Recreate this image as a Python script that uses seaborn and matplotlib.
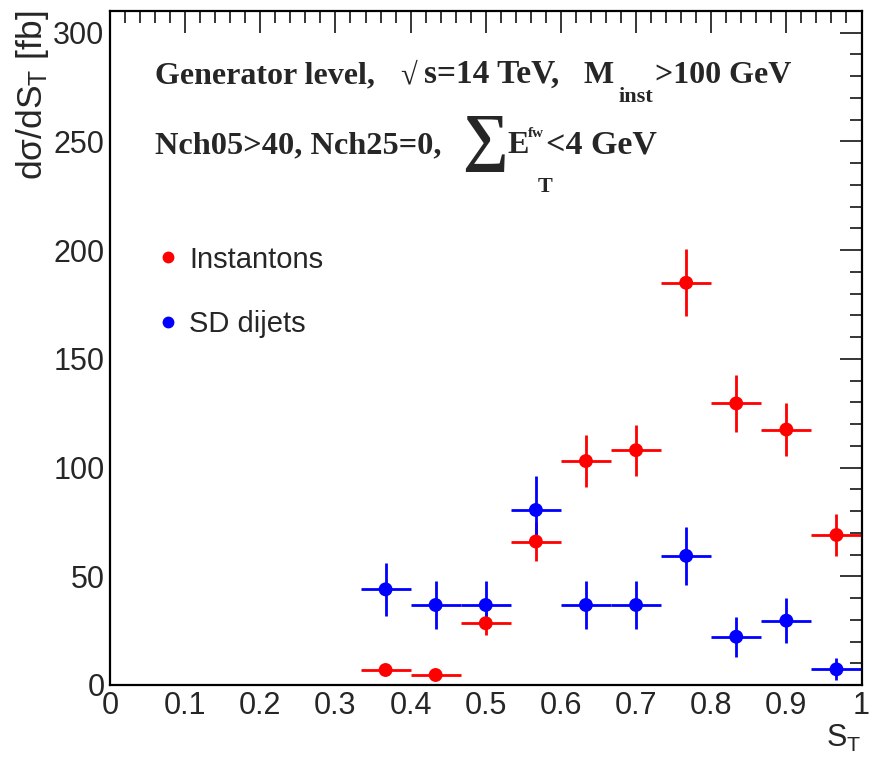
import numpy as np
import pandas as pd
import matplotlib
matplotlib.use("Agg")
import matplotlib.pyplot as plt
from matplotlib.lines import Line2D
from matplotlib.ticker import MultipleLocator, FixedLocator, FixedFormatter
import seaborn as sns

# S_T bin centres (15 equal bins on [0,1], only the filled ones)
st_centers = [0.3667, 0.4333, 0.5, 0.5667, 0.6333, 0.7, 0.7667, 0.8333, 0.9, 0.9667]
bin_half_width = 1.0 / 30.0

# dsigma/dS_T [fb] with statistical errors
inst_vals = [6.9, 4.6, 28.4, 66.0, 103.0, 108.0, 185.0, 129.5, 117.5, 69.0]
inst_errs = [1.5, 1.2, 5.3, 8.8, 11.8, 11.8, 15.5, 13.0, 12.4, 9.6]
sd_vals = [44.0, 36.8, 36.8, 80.5, 36.8, 36.8, 59.4, 22.2, 29.6, 7.2]
sd_errs = [12.3, 11.0, 11.0, 15.5, 10.9, 10.9, 13.4, 9.2, 10.3, 5.0]

samples = ["Instantons", "SD dijets"]
colors = {"Instantons": "#ff0000", "SD dijets": "#0000ff"}

x_ticks = [0, 0.1, 0.2, 0.3, 0.4, 0.5, 0.6, 0.7, 0.8, 0.9, 1.0]
x_tick_labels = ["0", "0.1", "0.2", "0.3", "0.4", "0.5", "0.6", "0.7", "0.8", "0.9", "1"]
y_ticks = [0, 50, 100, 150, 200, 250, 300]

df = pd.DataFrame({
    "st": st_centers * 2,
    "xsec": inst_vals + sd_vals,
    "err": inst_errs + sd_errs,
    "sample": ["Instantons"] * len(inst_vals) + ["SD dijets"] * len(sd_vals),
})

sns.set_style("white")
plt.rcParams["font.family"] = ["Liberation Sans", "DejaVu Sans"]
plt.rcParams["mathtext.fontset"] = "custom"
plt.rcParams["mathtext.rm"] = "Liberation Sans"
plt.rcParams["mathtext.it"] = "Liberation Sans"

W, H = 871, 773
fig = plt.figure(figsize=(W / 100, H / 100), dpi=100)
ax = fig.add_axes([110 / W, 1 - 685 / H, (861.5 - 110) / W, (685 - 11) / H])

# error crosses, then the markers through seaborn
for name in samples:
    sub = df[df["sample"] == name]
    ax.errorbar(sub["st"], sub["xsec"], xerr=bin_half_width, yerr=sub["err"],
                fmt="none", ecolor=colors[name], elinewidth=2.0, capsize=0, zorder=2)
    sns.scatterplot(data=sub, x="st", y="xsec", color=colors[name], s=100,
                    edgecolor="none", ax=ax, zorder=3, legend=False)

ax.set_xlim(0, 1)
ax.set_ylim(0, 310)
ax.xaxis.set_major_locator(FixedLocator(x_ticks))
ax.xaxis.set_major_formatter(FixedFormatter(x_tick_labels))
ax.xaxis.set_minor_locator(MultipleLocator(0.02))
ax.yaxis.set_major_locator(FixedLocator(y_ticks))
ax.yaxis.set_minor_locator(MultipleLocator(10))
ax.tick_params(which="both", direction="in", top=True, right=True,
               width=1.1, color="black", labelsize=22, pad=4)
ax.tick_params(which="major", length=16)
ax.tick_params(which="minor", length=8.5)
for sp in ax.spines.values():
    sp.set_linewidth(1.6)
    sp.set_color("black")

ax.set_xlabel(r"S$_{\mathrm{T}}$", fontsize=22, loc="right", labelpad=2)
ax.set_ylabel(r"dσ/dS$_{\mathrm{T}}$ [fb]", fontsize=25.5, loc="top")
ax.yaxis.set_label_coords(-0.079, 1.0)

handles = [Line2D([], [], marker="o", ls="", color=colors[n], markersize=7.5, label=n)
           for n in samples]
ax.legend(handles=handles, loc="upper left", bbox_to_anchor=(0.065, 0.652),
          frameon=False, fontsize=21, handlelength=0.6, handletextpad=0.45,
          labelspacing=1.25, borderpad=0.0, borderaxespad=0.0)

# header text block
serif = ["Liberation Serif", "DejaVu Serif"]


def put(x, y, s, size, **kw):
    fig.text(x / W, 1 - y / H, s, fontsize=size, family=serif, fontweight="bold",
             va="baseline", ha="left", **kw)


put(155, 83, "Generator level,", 23)
put(400, 83, "√", 22)
put(424, 83, "s=14 TeV,", 24)
put(583, 83, "M", 23)
put(618, 102, "inst", 16)
put(655, 83, ">100 GeV", 23)

put(155, 153, "Nch05>40, Nch25=0,", 23.3)
put(462, 158, "∑", 46)
put(507, 153, "E", 23)
put(528, 137, "fw", 11)
put(538, 192, "T", 16)
put(546, 153, "<4 GeV", 24.5)

fig.savefig("out.png", dpi=100, facecolor="white")
